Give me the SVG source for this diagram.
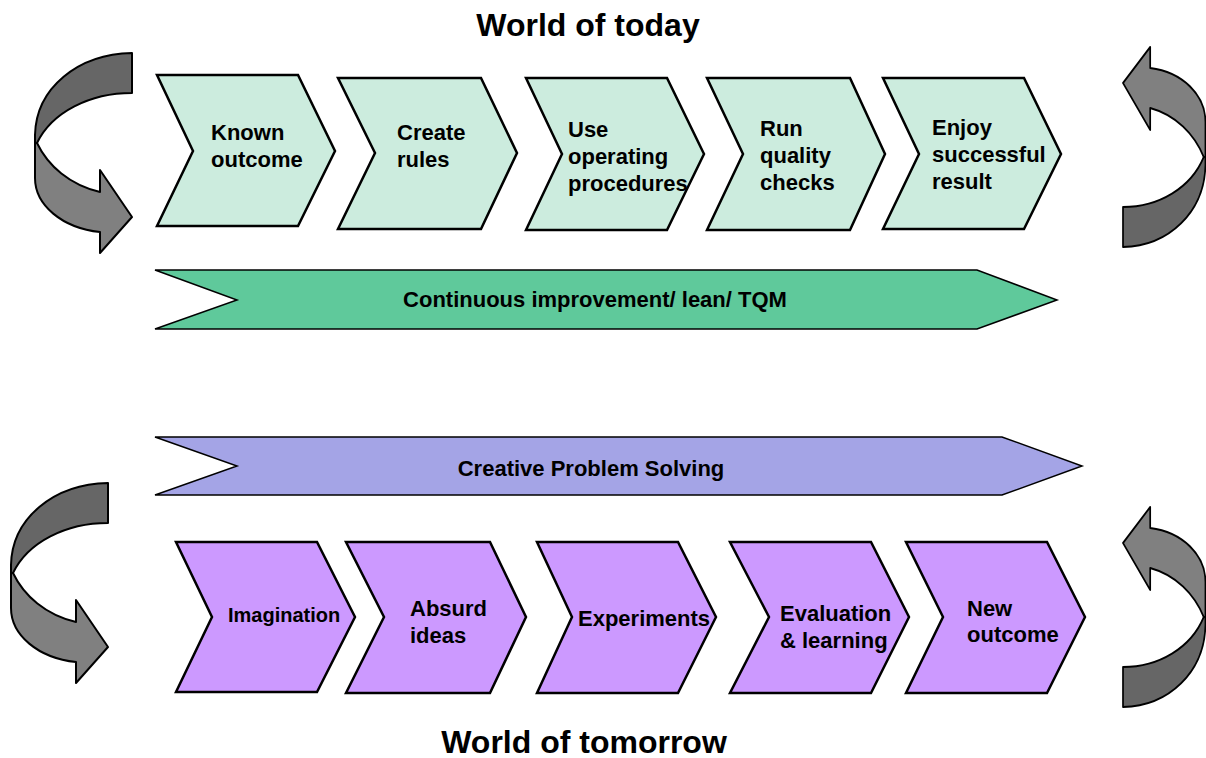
<svg xmlns="http://www.w3.org/2000/svg" width="1206" height="758" viewBox="0 0 1206 758">
<style>
text{font-family:"Liberation Sans",Arial,sans-serif;font-weight:bold;fill:#000}
.t{font-size:22px}
.title{font-size:32px;text-anchor:middle}
.band{font-size:22px;text-anchor:middle}
.cg{fill:#ccecde;stroke:#000;stroke-width:2.5;stroke-linejoin:miter}
.cp{fill:#cc99ff;stroke:#000;stroke-width:2.5;stroke-linejoin:miter}
.dk{fill:#666666;stroke:#000;stroke-width:2;stroke-linejoin:round}
.lt{fill:#808080;stroke:#000;stroke-width:2;stroke-linejoin:round}
</style>
<defs>
<g id="curl">
<path class="dk" d="M132,53 L132,93 C90,93 52,112 37,143 L35,143 L35,135 C36,88 78,54 132,53 Z"/>
<path class="lt" d="M35,143 L37,143 C48,166 70,185 100,192 L100,170 L132,217 L100,253 L100,232 C62,228 35,205 35,178 Z"/>
</g>
</defs>
<rect width="1206" height="758" fill="#fff"/>
<text class="title" x="588" y="36">World of today</text>
<text class="title" x="584" y="753">World of tomorrow</text>
<g id="loops">
<use href="#curl"/>
<use href="#curl" transform="translate(-24,430)"/>
<use href="#curl" transform="translate(1235.2,300) scale(-0.85,-1)"/>
<use href="#curl" transform="translate(1235.2,760) scale(-0.85,-1)"/>
</g>
<g id="today1"><polygon class="cg" points="157,75 298,75 335,151 298,226 157,226 193,151"/><text class="t" x="211" y="140">Known</text><text class="t" x="211" y="167">outcome</text></g>
<g id="today2"><polygon class="cg" points="338,78 481,78 517,153 481,229 338,229 375,153"/><text class="t" x="397" y="140">Create</text><text class="t" x="397" y="167">rules</text></g>
<g id="today3"><polygon class="cg" points="526,78 667,78 704,154 667,230 526,230 562,154"/><text class="t" x="568" y="137">Use</text><text class="t" x="568" y="164">operating</text><text class="t" x="568" y="191">procedures</text></g>
<g id="today4"><polygon class="cg" points="707,78 850,78 885,154 850,230 707,230 743,154"/><text class="t" x="760" y="136">Run</text><text class="t" x="760" y="163">quality</text><text class="t" x="760" y="190">checks</text></g>
<g id="today5"><polygon class="cg" points="883,78 1024,78 1061,154 1024,229 883,229 919,154"/><text class="t" x="932" y="135">Enjoy</text><text class="t" x="932" y="162">successful</text><text class="t" x="932" y="189">result</text></g>
<g id="ci"><polygon points="155,270 977,270 1057,300 977,329 155,329 237,300" fill="#5fc99b" stroke="#000" stroke-width="1.5"/><text class="band" x="595" y="307">Continuous improvement/ lean/ TQM</text></g>
<g id="cps"><polygon points="155,437 1002,437 1082,466 1002,495 155,495 237,466" fill="#a4a4e6" stroke="#000" stroke-width="1.5"/><text class="band" x="591" y="476">Creative Problem Solving</text></g>
<g id="tom1"><polygon class="cp" points="176,542 317,542 355,617 317,692 176,692 212,617"/><text x="228" y="622" font-size="20">Imagination</text></g>
<g id="tom2"><polygon class="cp" points="346,542 490,542 526,617 490,693 346,693 384,617"/><text class="t" x="410" y="616">Absurd</text><text class="t" x="410" y="643">ideas</text></g>
<g id="tom3"><polygon class="cp" points="537,542 678,542 716,617 678,693 537,693 572,617"/><text class="t" x="578" y="626">Experiments</text></g>
<g id="tom4"><polygon class="cp" points="730,542 871,542 909,617 871,693 730,693 769,617"/><text class="t" x="780" y="621">Evaluation</text><text class="t" x="780" y="648">&amp; learning</text></g>
<g id="tom5"><polygon class="cp" points="906,542 1047,542 1085,617 1047,693 906,693 943,617"/><text class="t" x="967" y="616">New</text><text class="t" x="967" y="642">outcome</text></g>
<g id="connectors"/>
</svg>
